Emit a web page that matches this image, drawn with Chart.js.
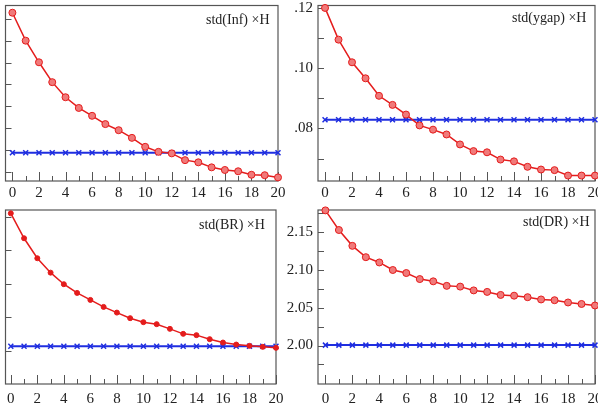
<!DOCTYPE html>
<html><head><meta charset="utf-8">
<script src="https://cdn.jsdelivr.net/npm/chart.js@4/dist/chart.umd.min.js"></script>
<style>
html,body{margin:0;padding:0;background:#fff;overflow:hidden;width:598px;height:406px;position:relative;}
canvas{position:absolute;}
</style></head><body>
<canvas id="c1" width="300" height="203" style="left:0;top:0"></canvas>
<canvas id="c2" width="340" height="203" style="left:270px;top:0"></canvas>
<canvas id="c3" width="300" height="203" style="left:0;top:203px"></canvas>
<canvas id="c4" width="340" height="203" style="left:270px;top:203px"></canvas>
<script>
// ---- data ----
const steps = [0,1,2,3,4,5,6,7,8,9,10,11,12,13,14,15,16,17,18,19,20];
const xTickLabels = [0,2,4,6,8,10,12,14,16,18,20];
const xMinorTicks = [1,3,5,7,9,11,13,15,17,19];

// std(Inf) x H (y tick labels not visible in the picture; arbitrary units)
const infRed  = [8.28,7.00,6.01,5.10,4.41,3.92,3.56,3.18,2.90,2.55,2.14,1.91,1.84,1.53,1.43,1.20,1.08,1.02,0.86,0.84,0.74];
const infBlue = [1.87,1.87,1.87,1.87,1.87,1.87,1.87,1.87,1.87,1.87,1.87,1.87,1.87,1.87,1.87,1.87,1.87,1.87,1.87,1.87,1.87];
const infTicks = [1,2,3,4,5,6,7,8];

// std(ygap) x H
const ygapRed  = [0.1199,0.1094,0.1019,0.0966,0.0908,0.0878,0.0846,0.0810,0.0796,0.0780,0.0747,0.0725,0.0721,0.0697,0.0691,0.0673,0.0664,0.0662,0.0644,0.0644,0.0644];
const ygapBlue = [0.0829,0.0829,0.0829,0.0829,0.0829,0.0829,0.0829,0.0829,0.0829,0.0829,0.0829,0.0829,0.0829,0.0829,0.0829,0.0829,0.0829,0.0829,0.0829,0.0829,0.0829];
const ygapTicks = [0.08,0.10,0.12];
const ygapMinor = [0.07,0.09,0.11];

// std(BR) x H (y tick labels not visible; arbitrary units)
const brRed  = [5.10,4.355,3.758,3.328,2.982,2.722,2.513,2.304,2.134,1.967,1.848,1.788,1.648,1.499,1.460,1.340,1.239,1.179,1.140,1.110,1.081];
const brBlue = [1.13,1.13,1.13,1.13,1.13,1.13,1.13,1.13,1.13,1.13,1.13,1.13,1.13,1.13,1.13,1.13,1.13,1.13,1.13,1.13,1.13];
const brTicks = [1,2,3,4,5];

// std(DR) x H
const drRed  = [2.179,2.153,2.132,2.117,2.110,2.100,2.096,2.088,2.085,2.079,2.078,2.073,2.071,2.067,2.066,2.064,2.061,2.060,2.057,2.055,2.053];
const drBlue = [2.0005,2.0005,2.0005,2.0005,2.0005,2.0005,2.0005,2.0005,2.0005,2.0005,2.0005,2.0005,2.0005,2.0005,2.0005,2.0005,2.0005,2.0005,2.0005,2.0005,2.0005];
const drTicks = [2.00,2.05,2.10,2.15];
const drMinor = [1.975,2.025,2.075,2.125,2.175];

const FONT = '"Liberation Serif", "Times New Roman", serif';
const RED = '#e41c1c', REDFILL = '#f07a7a', BLUE = '#1f2ee0', FRAME = '#555';

const framePlugin = {
  id: 'frameTicks',
  beforeDatasetsDraw(chart, args, o) {
    const {ctx, chartArea: a, scales: {x, y}} = chart;
    ctx.save();
    ctx.strokeStyle = FRAME; ctx.lineWidth = 1.2;
    ctx.strokeRect(a.left, a.top, a.right - a.left, a.bottom - a.top);
    ctx.lineWidth = 1;
    ctx.beginPath();
    (o.yMajor || []).forEach(v => { const p = Math.round(y.getPixelForValue(v)) + 0.5; ctx.moveTo(a.left, p); ctx.lineTo(a.left + 6, p); });
    (o.yMinor || []).forEach(v => { const p = Math.round(y.getPixelForValue(v)) + 0.5; ctx.moveTo(a.left, p); ctx.lineTo(a.left + 6, p); });
    xTickLabels.forEach(v => { const p = Math.round(x.getPixelForValue(v)) + 0.5; ctx.moveTo(p, a.bottom); ctx.lineTo(p, a.bottom - 9); });
    xMinorTicks.forEach(v => { const p = Math.round(x.getPixelForValue(v)) + 0.5; ctx.moveTo(p, a.bottom); ctx.lineTo(p, a.bottom - 5); });
    ctx.stroke();
    ctx.restore();
  },
  afterDraw(chart, args, o) {
    const {ctx} = chart;
    ctx.save();
    ctx.font = '14px ' + FONT;
    ctx.fillStyle = '#222';
    ctx.textAlign = 'left';
    ctx.textBaseline = 'middle';
    ctx.fillText(o.title, o.tx, o.ty);
    ctx.restore();
  }
};

function makeChart(id, cfg) {
  const W = cfg.W, H = 203;
  new Chart(document.getElementById(id), {
    type: 'line',
    data: {
      labels: steps,
      datasets: [
        { data: cfg.blue.map((v, i) => ({x: steps[i], y: v})), borderColor: BLUE, borderWidth: 2,
          pointStyle: 'crossRot', pointRadius: 3.5, pointBorderColor: BLUE, pointBorderWidth: 1.5,
          pointBackgroundColor: BLUE, clip: false, order: 2 },
        { data: cfg.red.map((v, i) => ({x: steps[i], y: v})), borderColor: RED, borderWidth: 1.5,
          pointStyle: 'circle', pointRadius: cfg.pr, pointBorderColor: RED, pointBorderWidth: 1,
          pointBackgroundColor: cfg.pfill, clip: false, order: 1 }
      ]
    },
    options: {
      responsive: false, animation: false, devicePixelRatio: 1,
      layout: { padding: { left: 0, top: cfg.T, right: W - cfg.R, bottom: 0 } },
      plugins: { legend: { display: false }, tooltip: { enabled: false },
        frameTicks: { yMajor: cfg.yMajor, yMinor: cfg.yMinor, title: cfg.title, tx: cfg.tx, ty: cfg.ty } },
      scales: {
        x: { type: 'linear', min: cfg.xmin, max: 20,
          grid: { display: false, drawTicks: false }, border: { display: false },
          afterBuildTicks: s => { s.ticks = xTickLabels.map(v => ({value: v})); },
          afterFit: s => { s.height = H - cfg.B; s.paddingLeft = 0; s.paddingRight = 0; },
          ticks: { color: '#222', padding: cfg.xpad, maxRotation: 0, autoSkip: false,
            font: { family: FONT, size: 15, lineHeight: 1 } } },
        y: { type: 'linear', min: cfg.ymin, max: cfg.ymax,
          grid: { display: false, drawTicks: false }, border: { display: false },
          afterBuildTicks: s => { s.ticks = cfg.yMajor.map(v => ({value: v})); },
          afterFit: s => { s.width = cfg.L; s.paddingTop = 0; s.paddingBottom = 0; },
          ticks: { display: cfg.showY, color: '#222', padding: 5,
            callback: cfg.fmt, font: { family: FONT, size: 15, lineHeight: 1 } } }
      }
    },
    plugins: [framePlugin]
  });
}

makeChart('c1', { W: 300, L: 2, T: 5, R: 278, B: 181, xmin: -0.52, ymin: 0.575, ymax: 8.61,
  red: infRed, blue: infBlue, yMajor: infTicks, yMinor: [], showY: false, fmt: v => v,
  pr: 3.5, pfill: REDFILL, title: 'std(Inf) ×H', tx: 206, ty: 20, xpad: 5 });
makeChart('c2', { W: 340, L: 48, T: 5, R: 325, B: 181, xmin: -0.52, ymin: 0.0626, ymax: 0.1207,
  red: ygapRed, blue: ygapBlue, yMajor: ygapTicks, yMinor: ygapMinor, showY: true,
  fmt: v => v.toFixed(2).replace(/^0/, ''),
  pr: 3.5, pfill: REDFILL, title: 'std(ygap) ×H', tx: 242, ty: 18.5, xpad: 5 });
makeChart('c3', { W: 300, L: 2, T: 7, R: 276, B: 181, xmin: -0.4, ymin: 0, ymax: 5.2,
  red: brRed, blue: brBlue, yMajor: brTicks, yMinor: [], showY: false, fmt: v => v,
  pr: 2.5, pfill: RED, title: 'std(BR) ×H', tx: 199, ty: 22, xpad: 8 });
makeChart('c4', { W: 340, L: 48, T: 7, R: 325, B: 181, xmin: -0.55, ymin: 1.949, ymax: 2.1795,
  red: drRed, blue: drBlue, yMajor: drTicks, yMinor: drMinor, showY: true,
  fmt: v => v.toFixed(2),
  pr: 3.5, pfill: REDFILL, title: 'std(DR) ×H', tx: 253, ty: 19.7, xpad: 8 });
</script>
</body></html>
